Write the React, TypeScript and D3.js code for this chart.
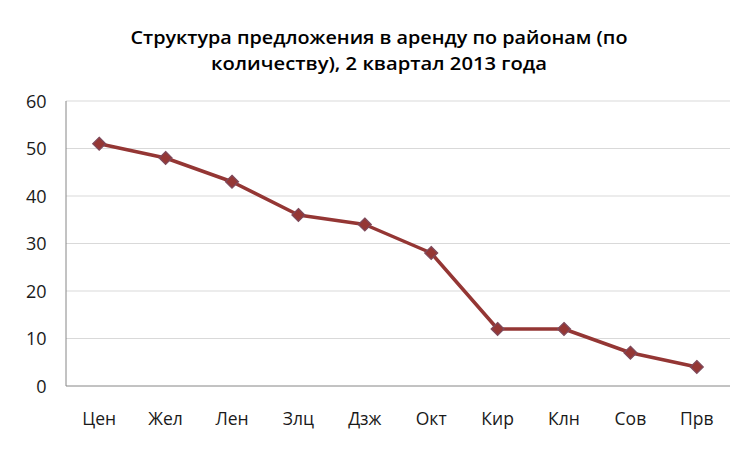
import React from "react";
import * as d3 from "d3";

const categories = ["Цен", "Жел", "Лен", "Злц", "Дзж", "Окт", "Кир", "Клн", "Сов", "Прв"];
const values = [51, 48, 43, 36, 34, 28, 12, 12, 7, 4];
const yTicks = [0, 10, 20, 30, 40, 50, 60];
const titleLines = ["Структура предложения в аренду по районам (по", "количеству), 2 квартал 2013 года"];

export default function App() {
  const W = 755, H = 456;
  const left = 66, right = 730, top = 101, bottom = 386;
  const x = d3.scaleBand<string>().domain(categories).range([left, right]);
  const y = d3.scaleLinear().domain([0, 60]).range([bottom, top]);
  const line = d3
    .line<number>()
    .x((_, i) => (x(categories[i]) as number) + x.bandwidth() / 2)
    .y((d) => y(d));
  const font = "'Open Sans', 'Noto Sans', sans-serif";
  return (
    <svg width={W} height={H} style={{ position: "absolute", left: 0, top: 0, background: "#fff" }}>
      <rect width={W} height={H} fill="#fff" />
      {titleLines.map((t, i) => (
        <text key={i} x={379} y={44 + i * 26} textAnchor="middle" fontFamily={font} fontWeight={600} fontSize={18.5} fill="#000" textLength={i === 0 ? 497 : 336} lengthAdjust="spacingAndGlyphs">
          {t}
        </text>
      ))}
      {yTicks.map((t) => (
        <g key={t}>
          {t > 0 && <line x1={left} x2={right} y1={y(t)} y2={y(t)} stroke="#d9d9d9" strokeWidth={1} />}
          <text x={46.5} y={y(t) + 6.5} textAnchor="end" fontFamily={font} fontSize={18} fill="#1a1a1a">
            {t}
          </text>
        </g>
      ))}
      <line x1={left} x2={left} y1={top} y2={bottom} stroke="#868686" />
      <line x1={left} x2={right} y1={bottom} y2={bottom} stroke="#868686" />
      {categories.map((c) => (
        <text key={c} x={(x(c) as number) + x.bandwidth() / 2} y={425} textAnchor="middle" fontFamily={font} fontSize={17.5} fill="#1a1a1a">
          {c}
        </text>
      ))}
      <path d={line(values) || ""} fill="none" stroke="#943634" strokeWidth={3.5} strokeLinejoin="round" />
      {values.map((v, i) => {
        const cx = (x(categories[i]) as number) + x.bandwidth() / 2;
        const cy = y(v);
        const s = 6.5;
        return (
          <path
            key={i}
            d={`M${cx},${cy - s}L${cx + s},${cy}L${cx},${cy + s}L${cx - s},${cy}Z`}
            fill="#953735"
            stroke="#7e4a5c"
            strokeWidth={1.2}
          />
        );
      })}
    </svg>
  );
}
